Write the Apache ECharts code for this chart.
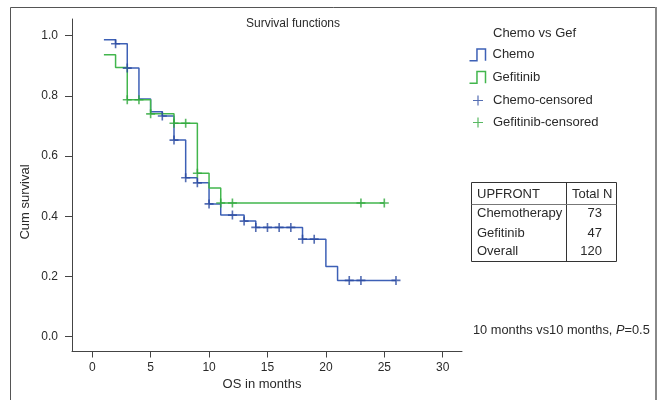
<!DOCTYPE html>
<html>
<head>
<meta charset="utf-8">
<script src="https://cdn.jsdelivr.net/npm/echarts@6/dist/echarts.min.js"></script>
<style>html,body{margin:0;padding:0;background:#fff}#c{width:660px;height:400px}</style>
</head>
<body>
<div id="c"></div>
<script>
const xTicks = [0, 5, 10, 15, 20, 25, 30];
const yTicks = [0, 0.2, 0.4, 0.6, 0.8, 1.0];

const chemoTimes = [1, 2, 3, 4, 5, 6, 7, 8, 9, 10, 11, 13, 14, 18, 20, 21, 26];
const chemoSurv  = [0.986, 0.973, 0.892, 0.789, 0.747, 0.733, 0.653, 0.528, 0.511, 0.441, 0.404, 0.384, 0.363, 0.324, 0.233, 0.187, 0.187];

const gefTimes = [1, 2, 3, 5, 7, 9, 10, 11, 25];
const gefSurv  = [0.936, 0.894, 0.787, 0.740, 0.709, 0.543, 0.494, 0.444, 0.444];

const chemoCensorTimes = [2, 3, 6, 7, 8, 9, 10, 12, 13, 14, 15, 16, 17, 18, 19, 22, 23, 26];
const chemoCensorSurv  = [0.973, 0.892, 0.733, 0.653, 0.528, 0.511, 0.441, 0.404, 0.384, 0.363, 0.363, 0.363, 0.363, 0.324, 0.324, 0.187, 0.187, 0.187];

const gefCensorTimes = [3, 4, 5, 7, 8, 9, 11, 12, 23, 25];
const gefCensorSurv  = [0.787, 0.787, 0.740, 0.709, 0.709, 0.543, 0.444, 0.444, 0.444, 0.444];

const tableHeader = ['UPFRONT', 'Total N'];
const tableGroups = ['Chemotherapy', 'Gefitinib', 'Overall'];
const tableN = [73, 47, 120];

const seriesNames = ['Chemo', 'Gefitinib', 'Chemo-censored', 'Gefitinib-censored'];

const BLUE = '#3d60b6';
const GREEN = '#42b64d';
const BLUE_DARK = '#2b4aa0';
const GREEN_DARK = '#2fa83c';
const TXT = '#2a2a2a';
const FONT = '"Liberation Sans", Arial, sans-serif';
const PLUS = 'path://M4.1,0h1.8v4.1h4.1v1.8h-4.1v4.1h-1.8v-4.1h-4.1v-1.8h4.1z';
const PLUS_THIN = 'path://M4.4,0h1.2v4.4h4.4v1.2h-4.4v4.4h-1.2v-4.4h-4.4v-1.2h4.4z';
const STEP = 'path://M0,11L7,11L7,0L15,0L15,11';

function zip(a, b) { return a.map((v, i) => [v, b[i]]); }

const chart = echarts.init(document.getElementById('c'), null, {renderer: 'canvas'});

const tableGraphics = [];
const tx0 = 471.5, tx1 = 616.5, ty0 = 182.5, ty1 = 261.5, tcol = 566.5, thead = 204.5;
tableGraphics.push({type: 'rect', shape: {x: tx0, y: ty0, width: tx1 - tx0, height: ty1 - ty0}, style: {fill: 'none', stroke: '#333', lineWidth: 1}});
tableGraphics.push({type: 'line', shape: {x1: tcol, y1: ty0, x2: tcol, y2: ty1}, style: {stroke: '#333', lineWidth: 1}});
tableGraphics.push({type: 'line', shape: {x1: tx0, y1: thead, x2: tx1, y2: thead}, style: {stroke: '#777', lineWidth: 1}});
tableGraphics.push({type: 'text', x: 477, y: 194, style: {text: tableHeader[0], font: '13px ' + FONT, fill: TXT, verticalAlign: 'middle'}});
tableGraphics.push({type: 'text', x: 572, y: 194, style: {text: tableHeader[1], font: '13px ' + FONT, fill: TXT, verticalAlign: 'middle'}});
const rowY = [213.5, 233, 251.5];
tableGroups.forEach((g, i) => {
  tableGraphics.push({type: 'text', x: 477, y: rowY[i], style: {text: g, font: '13px ' + FONT, fill: TXT, verticalAlign: 'middle'}});
  tableGraphics.push({type: 'text', x: 602, y: rowY[i], style: {text: String(tableN[i]), font: '13px ' + FONT, fill: TXT, verticalAlign: 'middle', align: 'right'}});
});

const legendIcons = [
  {icon: STEP, itemStyle: {color: 'none', borderColor: BLUE, borderWidth: 1.5}},
  {icon: STEP, itemStyle: {color: 'none', borderColor: GREEN, borderWidth: 1.5}},
  {icon: PLUS_THIN, itemStyle: {color: BLUE_DARK, borderWidth: 0}},
  {icon: PLUS_THIN, itemStyle: {color: GREEN_DARK, borderWidth: 0}}
];
const legendCenters = [54, 76.5, 101.5, 123.5];
const legendLefts = [467, 467, 473, 473];
const legends = seriesNames.map((n, i) => ({
  orient: 'vertical',
  left: legendLefts[i], top: legendCenters[i] - 7.5,
  padding: 0,
  itemWidth: 16, itemHeight: i < 2 ? 12 : 10,
  symbolKeepAspect: true,
  selectedMode: false,
  textStyle: {fontSize: 13, color: TXT, fontFamily: FONT, padding: [0, 0, 0, 2]},
  data: [Object.assign({name: n}, legendIcons[i])]
}));

const option = {
  backgroundColor: '#fff',
  animation: false,
  title: [
    {text: 'Survival functions', left: 293, top: 18, padding: 0, textAlign: 'center',
     textStyle: {fontSize: 12, fontWeight: 'normal', color: TXT, fontFamily: FONT}},
    {text: 'Chemo vs Gef', left: 493, top: 27, padding: 0,
     textStyle: {fontSize: 13, fontWeight: 'normal', color: TXT, fontFamily: FONT}}
  ],
  legend: legends,
  grid: {left: 72, right: 198, top: 19, bottom: 48.5, containLabel: false},
  xAxis: {
    type: 'value', min: -1.73, max: 31.65,
    axisLine: {show: true, onZero: false, lineStyle: {color: '#444', width: 1}},
    axisTick: {show: true, length: 6, lineStyle: {color: '#444'}, customValues: xTicks},
    axisLabel: {show: true, margin: 10, fontSize: 12, color: TXT, fontFamily: FONT, customValues: xTicks},
    splitLine: {show: false}
  },
  yAxis: {
    type: 'value', min: -0.049, max: 1.055,
    axisLine: {show: true, onZero: false, lineStyle: {color: '#444', width: 1}},
    axisTick: {show: true, length: 7, lineStyle: {color: '#444'}, customValues: yTicks},
    axisLabel: {show: true, margin: 14, fontSize: 12, color: TXT, fontFamily: FONT, customValues: yTicks,
      formatter: v => v.toFixed(1)},
    splitLine: {show: false}
  },
  series: [
    {name: seriesNames[0], type: 'line', step: 'end', data: zip(chemoTimes, chemoSurv), showSymbol: false, symbol: 'none',
     lineStyle: {color: BLUE, width: 1.5}, itemStyle: {color: BLUE}, z: 2},
    {name: seriesNames[1], type: 'line', step: 'end', data: zip(gefTimes, gefSurv), showSymbol: false, symbol: 'none',
     lineStyle: {color: GREEN, width: 1.5}, itemStyle: {color: GREEN}, z: 3},
    {name: seriesNames[2], type: 'scatter', data: zip(chemoCensorTimes, chemoCensorSurv), symbol: PLUS, symbolSize: 9,
     itemStyle: {color: BLUE_DARK}, z: 4},
    {name: seriesNames[3], type: 'scatter', data: zip(gefCensorTimes, gefCensorSurv), symbol: PLUS, symbolSize: 9,
     itemStyle: {color: GREEN_DARK}, z: 5}
  ],
  graphic: [
    {type: 'rect', shape: {x: 10.5, y: 7.5, width: 645.5, height: 400}, style: {fill: 'none', stroke: '#555', lineWidth: 1}, silent: true},
    {type: 'line', shape: {x1: 656, y1: 7, x2: 656, y2: 400}, style: {stroke: '#888', lineWidth: 2}, silent: true},
    {type: 'text', x: 25, y: 202, rotation: Math.PI / 2,
     style: {text: 'Cum survival', font: '13px ' + FONT, fill: TXT, align: 'center', verticalAlign: 'middle'}},
    {type: 'text', x: 262, y: 384,
     style: {text: 'OS in months', font: '13px ' + FONT, fill: TXT, align: 'center', verticalAlign: 'middle'}},
    {type: 'text', x: 473, y: 330,
     style: {text: '10 months vs10 months, {i|P}=0.5', font: '12.8px ' + FONT, fill: TXT, verticalAlign: 'middle',
       rich: {i: {fontStyle: 'italic', fontSize: 12.8, fontFamily: FONT, fill: TXT}}}}
  ].concat(tableGraphics)
};

chart.setOption(option);
</script>
</body>
</html>
